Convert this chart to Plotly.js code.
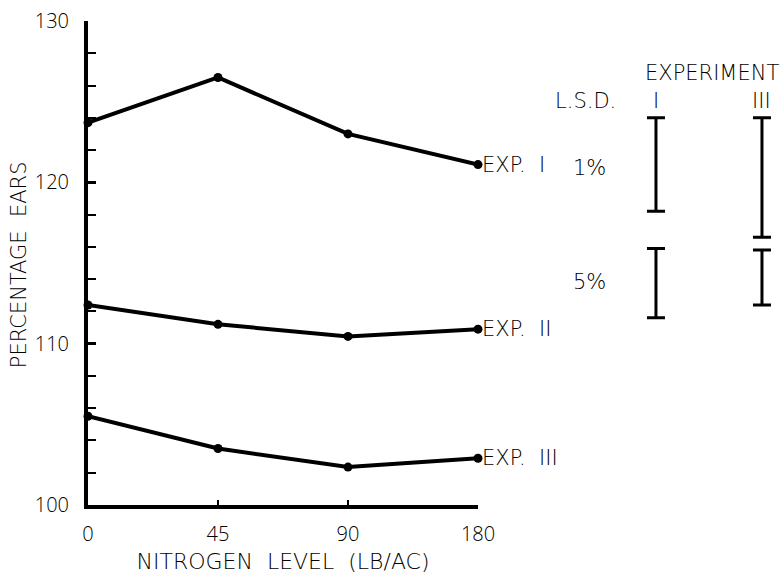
<!DOCTYPE html>
<html>
<head>
<meta charset="utf-8">
<script src="https://cdn.plot.ly/plotly-3.0.1.min.js"></script>
<style>html,body{margin:0;padding:0;background:#fff;}#chart{width:782px;height:574px;}</style>
</head>
<body>
<div id="chart"></div>
<script>
// Nitrogen levels (categorical, equally spaced on the chart)
const nitrogenLevels = ["0", "45", "90", "180"];
// Percentage ears per experiment
const exp1 = [123.7, 126.5, 123.0, 121.1];
const exp2 = [112.4, 111.2, 110.45, 110.9];
const exp3 = [105.5, 103.5, 102.35, 102.9];
const seriesNames = ["EXP. I", "EXP. II", "EXP. III"];
// L.S.D. bars: experiments I and III, at 1% and 5%
const lsdExperiments = ["I", "III"];
const lsd1Top = [124.0, 124.0];
const lsd1Value = [5.8, 7.4];
const lsd5Top = [115.9, 115.8];
const lsd5Value = [4.3, 3.4];

const NUMFONT = "Open Sans, DejaVu Sans, sans-serif";
const TXTFONT = "DejaVu Sans, Open Sans, sans-serif";
const idx = nitrogenLevels.map((_, i) => i);
const allSeries = [exp1, exp2, exp3];

const traces = allSeries.map((ys, k) => ({
  type: "scatter", mode: "lines+markers", x: idx, y: ys, name: seriesNames[k],
  line: {color: "#000", width: 4}, marker: {color: "#000", size: 9},
  cliponaxis: false, showlegend: false, xaxis: "x", yaxis: "y"
}));

const lsdX = [1, 2];
function lsdTrace(tops, vals) {
  return {
    type: "scatter", mode: "markers", x: lsdX, y: tops,
    marker: {opacity: 0, size: 1},
    error_y: {type: "data", symmetric: false, array: vals.map(() => 0), arrayminus: vals,
      color: "#000", thickness: 3, width: 9},
    cliponaxis: false, showlegend: false, xaxis: "x2", yaxis: "y", hoverinfo: "skip"
  };
}
traces.push(lsdTrace(lsd1Top, lsd1Value));
traces.push(lsdTrace(lsd5Top, lsd5Value));

const annFont = {family: TXTFONT, size: 21, color: "#000", weight: 300};
const annotations = [];
allSeries.forEach((ys, k) => {
  annotations.push({x: idx.length - 1, y: ys[ys.length - 1], xref: "x", yref: "y",
    text: seriesNames[k].replace(" ", "  "), showarrow: false, xanchor: "left", yanchor: "middle",
    xshift: 2, font: annFont});
});
lsdExperiments.forEach((e, i) => {
  annotations.push({x: lsdX[i], y: 125.05, xref: "x2", yref: "y", text: e, showarrow: false,
    xanchor: "center", yanchor: "middle", font: annFont});
});
annotations.push({x: 2.18, y: 126.8, xref: "x2", yref: "y", text: "EXPERIMENT", showarrow: false,
  xanchor: "right", yanchor: "middle", font: annFont});
annotations.push({x: 0.64, y: 125.05, xref: "x2", yref: "y", text: "L.S.D.", showarrow: false,
  xanchor: "right", yanchor: "middle", font: annFont});
annotations.push({x: 0.55, y: 120.9, xref: "x2", yref: "y", text: "1%", showarrow: false,
  xanchor: "right", yanchor: "middle", font: annFont});
annotations.push({x: 0.55, y: 113.8, xref: "x2", yref: "y", text: "5%", showarrow: false,
  xanchor: "right", yanchor: "middle", font: annFont});
// y-axis title placed as a rotated annotation for exact positioning
annotations.push({x: -0.099, y: 0.496, xref: "paper", yref: "paper", text: "PERCENTAGE  EARS",
  textangle: -90, showarrow: false, xanchor: "center", yanchor: "middle", font: annFont});

const layout = {
  width: 782, height: 574,
  margin: {l: 88, r: 0, t: 21, b: 69},
  paper_bgcolor: "#fff", plot_bgcolor: "#fff",
  font: {family: NUMFONT, size: 19, color: "#000"},
  showlegend: false,
  xaxis: {
    domain: [0, 390 / 694], range: [0, 3], tickmode: "array", tickvals: idx, ticktext: nitrogenLevels,
    showline: true, linecolor: "#000", linewidth: 4, ticks: "inside", ticklen: 5, tickwidth: 2,
    tickcolor: "#000", showgrid: false, zeroline: false,
    tickfont: {family: NUMFONT, size: 20, weight: 300},
    ticklabelstandoff: 8,
    title: {text: "NITROGEN  LEVEL  (LB/AC)", font: {family: TXTFONT, size: 22, weight: 300}, standoff: 12},
    fixedrange: true
  },
  yaxis: {
    range: [100, 130], dtick: 10, tick0: 100, showline: true, linecolor: "#000", linewidth: 4,
    ticks: "inside", ticklen: 8, tickwidth: 3, tickcolor: "#000", showgrid: false, zeroline: false,
    minor: {dtick: 2, tick0: 100, ticks: "inside", ticklen: 8, tickwidth: 2, tickcolor: "#000", showgrid: false},
    tickfont: {family: NUMFONT, size: 20, weight: 300}, ticklabelstandoff: 11,
    fixedrange: true
  },
  xaxis2: {
    domain: [512 / 694, 1], range: [0.472, 2.189], visible: false, anchor: "y", fixedrange: true
  },
  annotations: annotations
};

Plotly.newPlot("chart", traces, layout, {displayModeBar: false, staticPlot: true});
</script>
</body>
</html>
